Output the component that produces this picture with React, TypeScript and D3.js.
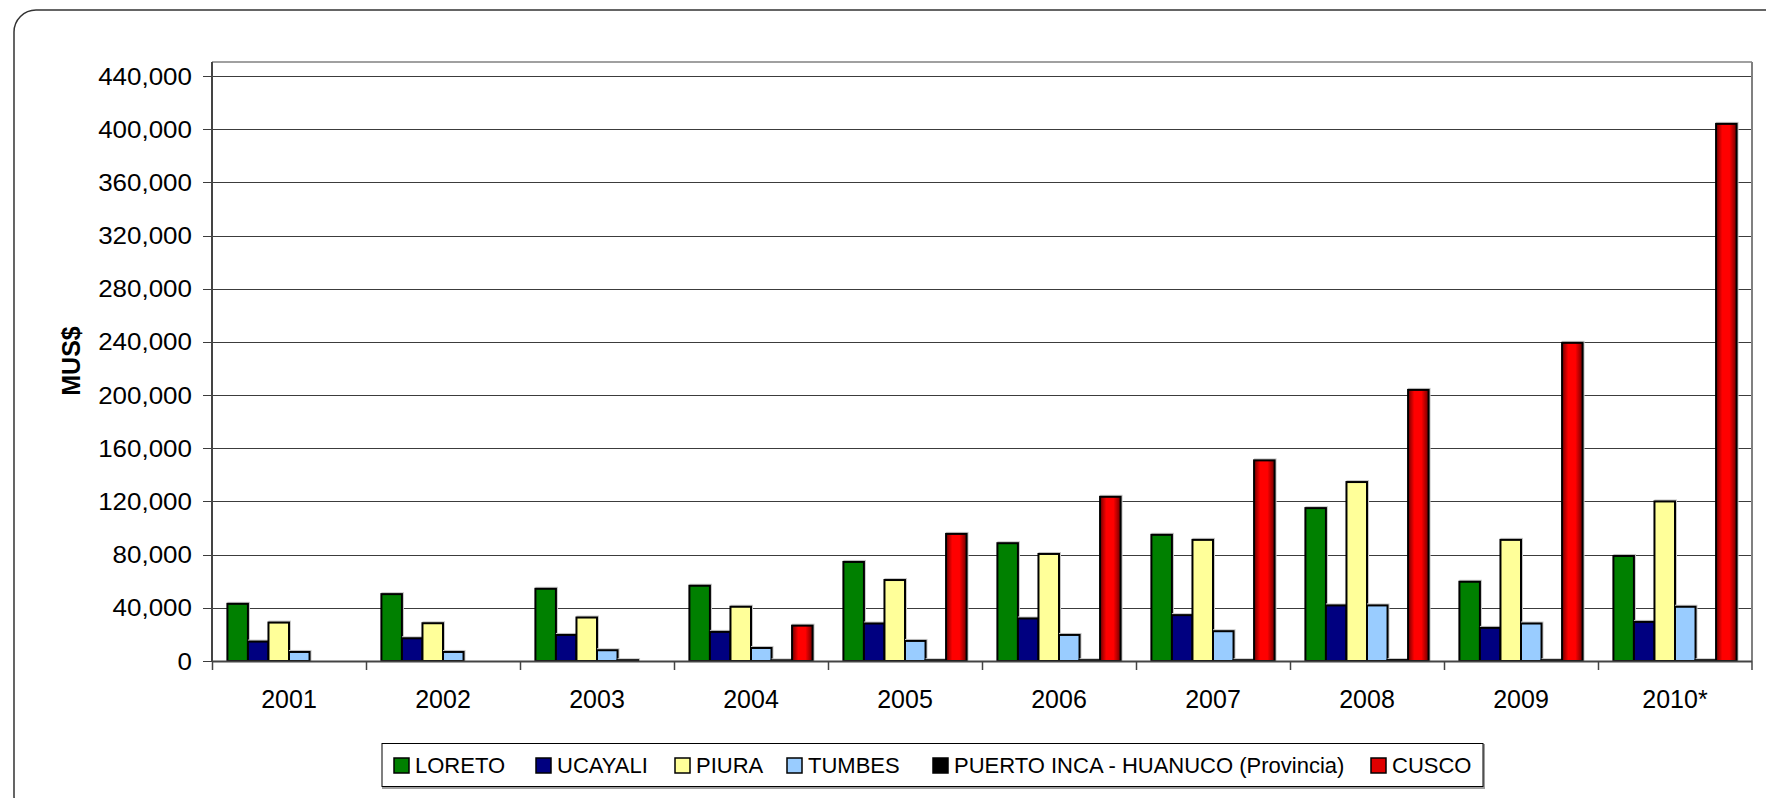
import * as React from 'react'
import * as d3 from 'd3'

const W = 1766
const H = 798
const PLOT_LEFT = 212
const PLOT_RIGHT = 1752
const PLOT_TOP = 62
const Y_ZERO = 661
const Y_MAX_PX = 76

const years = ['2001', '2002', '2003', '2004', '2005', '2006', '2007', '2008', '2009', '2010*']
const seriesNames = ['LORETO', 'UCAYALI', 'PIURA', 'TUMBES', 'PUERTO INCA - HUANUCO (Provincia)', 'CUSCO']
const seriesColors = ['#008000', '#000080', '#FFFF99', '#99CCFF', '#000000', 'url(#redGrad)']
const legendColors = ['#008000', '#000080', '#FFFF99', '#99CCFF', '#000000', '#E00000']

const loreto = [43000, 50300, 54300, 56600, 74500, 88600, 94900, 115000, 59600, 79000]
const ucayali = [14600, 17100, 19600, 21900, 28200, 32000, 34500, 41800, 24900, 29400]
const piura = [28900, 28400, 32700, 40800, 60900, 80500, 91100, 134600, 91100, 120000]
const tumbes = [6800, 6800, 8100, 9800, 15100, 19600, 22400, 41800, 28200, 40800]
const puertoInca = [0, 0, 600, 500, 600, 600, 600, 700, 600, 600]
const cusco = [0, 0, 0, 26600, 95600, 123500, 150900, 203900, 239300, 404000]

const yTicks = [0, 40000, 80000, 120000, 160000, 200000, 240000, 280000, 320000, 360000, 400000, 440000]

// legend swatch positions (layout only)
const legendX = [394, 536, 675, 787, 933, 1371]

const values = [loreto, ucayali, piura, tumbes, puertoInca, cusco]
const fmt = d3.format(',')

export default function App() {
  const x0 = d3.scaleBand<string>().domain(years).range([PLOT_LEFT, PLOT_RIGHT])
  const bw = x0.bandwidth()
  const barW = bw / 7.5
  const x1 = d3
    .scaleBand<string>()
    .domain(seriesNames)
    .range([barW * 0.75, bw - barW * 0.75])
  const y = d3.scaleLinear().domain([0, 440000]).range([Y_ZERO, Y_MAX_PX])

  const font = 'Arial, "Liberation Sans", sans-serif'

  return (
    <svg
      width={W}
      height={H}
      style={{ position: 'absolute', left: 0, top: 0, background: '#fff' }}
      fontFamily={font}
    >
      <defs>
        <linearGradient id="redGrad" x1="0" x2="1" y1="0" y2="0">
          <stop offset="0" stopColor="#700000" />
          <stop offset="0.3" stopColor="#FF0000" />
          <stop offset="0.65" stopColor="#FF0000" />
          <stop offset="1" stopColor="#700000" />
        </linearGradient>
      </defs>
      {/* outer frame */}
      <rect x={14} y={10} width={1820} height={808} rx={22} fill="#fff" stroke="#333" strokeWidth={1.5} />

      {/* grid lines */}
      {yTicks.map(t => (
        <line
          key={'g' + t}
          x1={PLOT_LEFT - 9}
          x2={PLOT_RIGHT}
          y1={Math.round(y(t)) + 0.5}
          y2={Math.round(y(t)) + 0.5}
          stroke="#3c3c3c"
          strokeWidth={1}
        />
      ))}
      {/* plot border top/right */}
      <line x1={PLOT_LEFT} x2={PLOT_RIGHT} y1={PLOT_TOP} y2={PLOT_TOP} stroke="#808080" strokeWidth={1.5} />
      <line x1={PLOT_RIGHT} x2={PLOT_RIGHT} y1={PLOT_TOP} y2={Y_ZERO} stroke="#808080" strokeWidth={2} />

      {/* bars */}
      {years.map((yr, i) => (
        <g key={yr} transform={`translate(${x0(yr)},0)`}>
          {seriesNames.map((s, j) => {
            const v = values[j][i]
            if (v <= 0) return null
            const top = y(v)
            const bx = x1(s) as number
            return (
              <g key={s}>
                <rect
                  x={bx + 1}
                  y={top - 1}
                  width={barW}
                  height={Y_ZERO - top + 1}
                  fill="none"
                  stroke="#c8c8c8"
                  strokeWidth={2}
                />
                <rect
                  x={bx}
                  y={top}
                  width={barW}
                  height={Y_ZERO - top}
                  fill={seriesColors[j]}
                  stroke="#000"
                  strokeWidth={2}
                />
              </g>
            )
          })}
        </g>
      ))}

      {/* axes */}
      <line x1={PLOT_LEFT} x2={PLOT_LEFT} y1={PLOT_TOP} y2={Y_ZERO} stroke="#444" strokeWidth={2} />
      <line x1={PLOT_LEFT} x2={PLOT_RIGHT} y1={Y_ZERO + 0.5} y2={Y_ZERO + 0.5} stroke="#444" strokeWidth={2} />
      {yTicks.map(t => (
        <text
          key={'t' + t}
          transform={`translate(192,${y(t)}) scale(1.06,1)`}
          dy="0.35em"
          textAnchor="end"
          fontSize={24.5}
          fill="#000"
        >
          {fmt(t)}
        </text>
      ))}
      {years.map(yr => (
        <line
          key={'xt' + yr}
          x1={Math.round(x0(yr) as number) + 0.5}
          x2={Math.round(x0(yr) as number) + 0.5}
          y1={Y_ZERO}
          y2={Y_ZERO + 9}
          stroke="#444"
          strokeWidth={1.5}
        />
      ))}
      <line x1={PLOT_RIGHT} x2={PLOT_RIGHT} y1={Y_ZERO} y2={Y_ZERO + 9} stroke="#444" strokeWidth={1.5} />
      {years.map(yr => (
        <text
          key={'xl' + yr}
          x={(x0(yr) as number) + bw / 2}
          y={708}
          textAnchor="middle"
          fontSize={25}
          fill="#000"
        >
          {yr}
        </text>
      ))}
      <text
        transform={`translate(80,361) rotate(-90)`}
        textAnchor="middle"
        fontSize={25}
        fontWeight="bold"
        fill="#000"
      >
        MUS$
      </text>

      {/* legend */}
      <rect x={383} y={745} width={1101} height={43} fill="none" stroke="#a0a0a0" strokeWidth={2} />
      <rect x={382} y={743.5} width={1101} height={43} fill="#fff" stroke="#000" strokeWidth={1} />
      {seriesNames.map((s, j) => (
        <g key={'lg' + s}>
          <rect x={legendX[j]} y={758} width={15} height={15} fill={legendColors[j]} stroke="#000" strokeWidth={1.5} />
          <text x={legendX[j] + 21} y={773} fontSize={22} fill="#000">
            {s}
          </text>
        </g>
      ))}
    </svg>
  )
}
